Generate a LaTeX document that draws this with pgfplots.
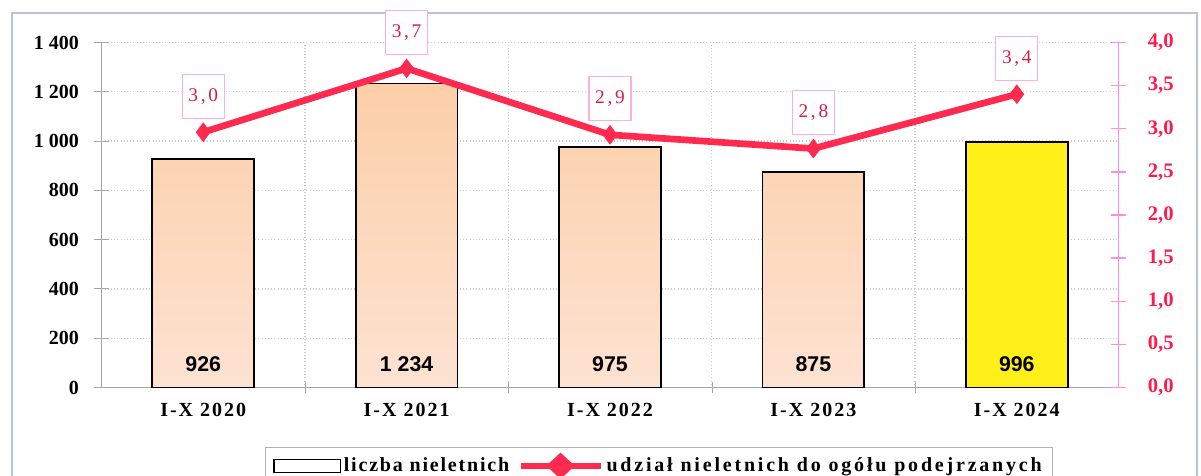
\documentclass[border=0pt]{standalone}
\usepackage{pgfplots}
\pgfplotsset{compat=1.18}
\usepackage{fontspec}
\setmainfont{Liberation Serif}
\newfontfamily\arialfont{Liberation Sans}
\newfontfamily\spacedserif[LetterSpace=10]{Liberation Serif}
\newfontfamily\legA[LetterSpace=9]{Liberation Serif}
\newfontfamily\legB[LetterSpace=14]{Liberation Serif}
\newfontfamily\widerserif[LetterSpace=14]{Liberation Serif}
\definecolor{peach}{HTML}{FCCFA8}
\definecolor{peachlt}{HTML}{FDE2D2}
\definecolor{ylw}{HTML}{FFF01A}
\definecolor{linered}{HTML}{FF2A50}
\definecolor{lblred}{HTML}{CF2048}
\definecolor{boxpink}{HTML}{FFB0D8}
\definecolor{axpink}{HTML}{FF8CE0}
\definecolor{ticred}{HTML}{FF1A4A}
\definecolor{framec}{HTML}{B8C6D4}
\begin{document}
\begin{tikzpicture}
% canvas: 1 px = 0.75pt, origin at axis lower-left (px 101.5, 387.5)
\useasboundingbox (-76.125pt,-65.625pt) rectangle (824.625pt,290.625pt);
\draw[framec, line width=1.2pt] (-67.125pt,-84.375pt) -- (-67.125pt,280.875pt) -- (821.625pt,280.875pt) -- (821.625pt,-84.375pt);
\begin{axis}[
  at={(0pt,0pt)}, anchor=south west,
  scale only axis, width=762.75pt, height=258.75pt,
  xmin=-0.5, xmax=4.5, ymin=0, ymax=1400,
  axis x line*=bottom, axis y line*=left,
  axis line style={gray!70, line width=0.8pt},
  xtick={0,1,2,3,4},
  xticklabels={I-X 2020,I-X 2021,I-X 2022,I-X 2023,I-X 2024},
  major x tick style={draw=none},
  minor xtick={0.5,1.5,2.5,3.5},
  minor tick length=8pt,
  xminorgrids, ymajorgrids,
  grid style={gray!40, dotted, line width=1pt},
  minor x tick style={gray!70},
  ytick={0,200,...,1400},
  yticklabels={0,200,400,600,800,1 000,1 200,1 400},
  tick align=center, major tick length=11pt,
  y tick style={gray!70, line width=0.8pt},
  yticklabel style={font=\bfseries\fontsize{15}{18}\selectfont, xshift=-8pt},
  xticklabel style={font=\spacedserif\bfseries\fontsize{15}{18}\selectfont, yshift=-3pt},
]
\addplot[ybar, bar width=0.5, bar shift=0pt, top color=peach, bottom color=peachlt, draw=black, line width=1.3pt]
  coordinates {(0,926) (1,1234) (2,975) (3,875)};
\addplot[ybar, bar width=0.5, bar shift=0pt, fill=ylw, draw=black, line width=1.3pt]
  coordinates {(4,996)};
\addplot[only marks, mark=none, nodes near coords, point meta=explicit symbolic,
  every node near coord/.style={anchor=center, font=\arialfont\bfseries\fontsize{16}{18}\selectfont, text=black}]
  coordinates {(0,94)[926] (1,94)[1 234] (2,94)[975] (3,94)[875] (4,94)[996]};
\end{axis}
\begin{axis}[
  at={(0pt,0pt)}, anchor=south west,
  scale only axis, width=762.75pt, height=258.75pt,
  xmin=-0.5, xmax=4.5, ymin=0, ymax=4,
  axis x line=none, axis y line*=right,
  axis line style={axpink, line width=1pt},
  ytick={0,0.5,...,4},
  yticklabels={{0,0},{0,5},{1,0},{1,5},{2,0},{2,5},{3,0},{3,5},{4,0}},
  tick align=center, major tick length=11pt,
  y tick style={axpink, line width=1pt},
  yticklabel style={font=\bfseries\fontsize{15.5}{18}\selectfont, text=ticred, xshift=13pt},
  legend columns=2,
  legend style={at={(axis description cs:0.548,-0.171)}, anchor=north,
    draw=gray!60, line width=1pt, font=\bfseries\fontsize{15}{17}\selectfont,
    inner xsep=6pt, inner ysep=5pt,
    /tikz/every even column/.append style={column sep=4pt}},
]
\addlegendimage{legend image code/.code={\draw[black, fill=white, line width=1pt] (0pt,-5pt) rectangle (50pt,5pt);}}
\addlegendentry{\legA liczba nieletnich}
\addplot[color=linered, line width=5pt, mark=diamond*, mark size=7pt,
  mark options={solid, fill=linered, draw=linered, line width=0.5pt},
  nodes near coords, point meta=explicit symbolic,
  every node near coord/.style={anchor=south, yshift=10pt, draw=boxpink, line width=0.8pt,
     fill=white, text=lblred, minimum width=31.5pt, minimum height=33pt,
     font=\widerserif\fontsize{14.5}{16}\selectfont},
  legend image code/.code={\draw[linered, line width=5pt] (0pt,0pt) -- (60pt,0pt);
     \fill[linered] (30pt,6.5pt) -- (37pt,0pt) -- (30pt,-6.5pt) -- (23pt,0pt) -- cycle;}]
  coordinates {(0,2.96)[3,0] (1,3.7)[3,7] (2,2.93)[2,9] (3,2.77)[2,8] (4,3.4)[3,4]};
\addlegendentry{\legB udział nieletnich do ogółu podejrzanych}
\end{axis}
\end{tikzpicture}
\end{document}
